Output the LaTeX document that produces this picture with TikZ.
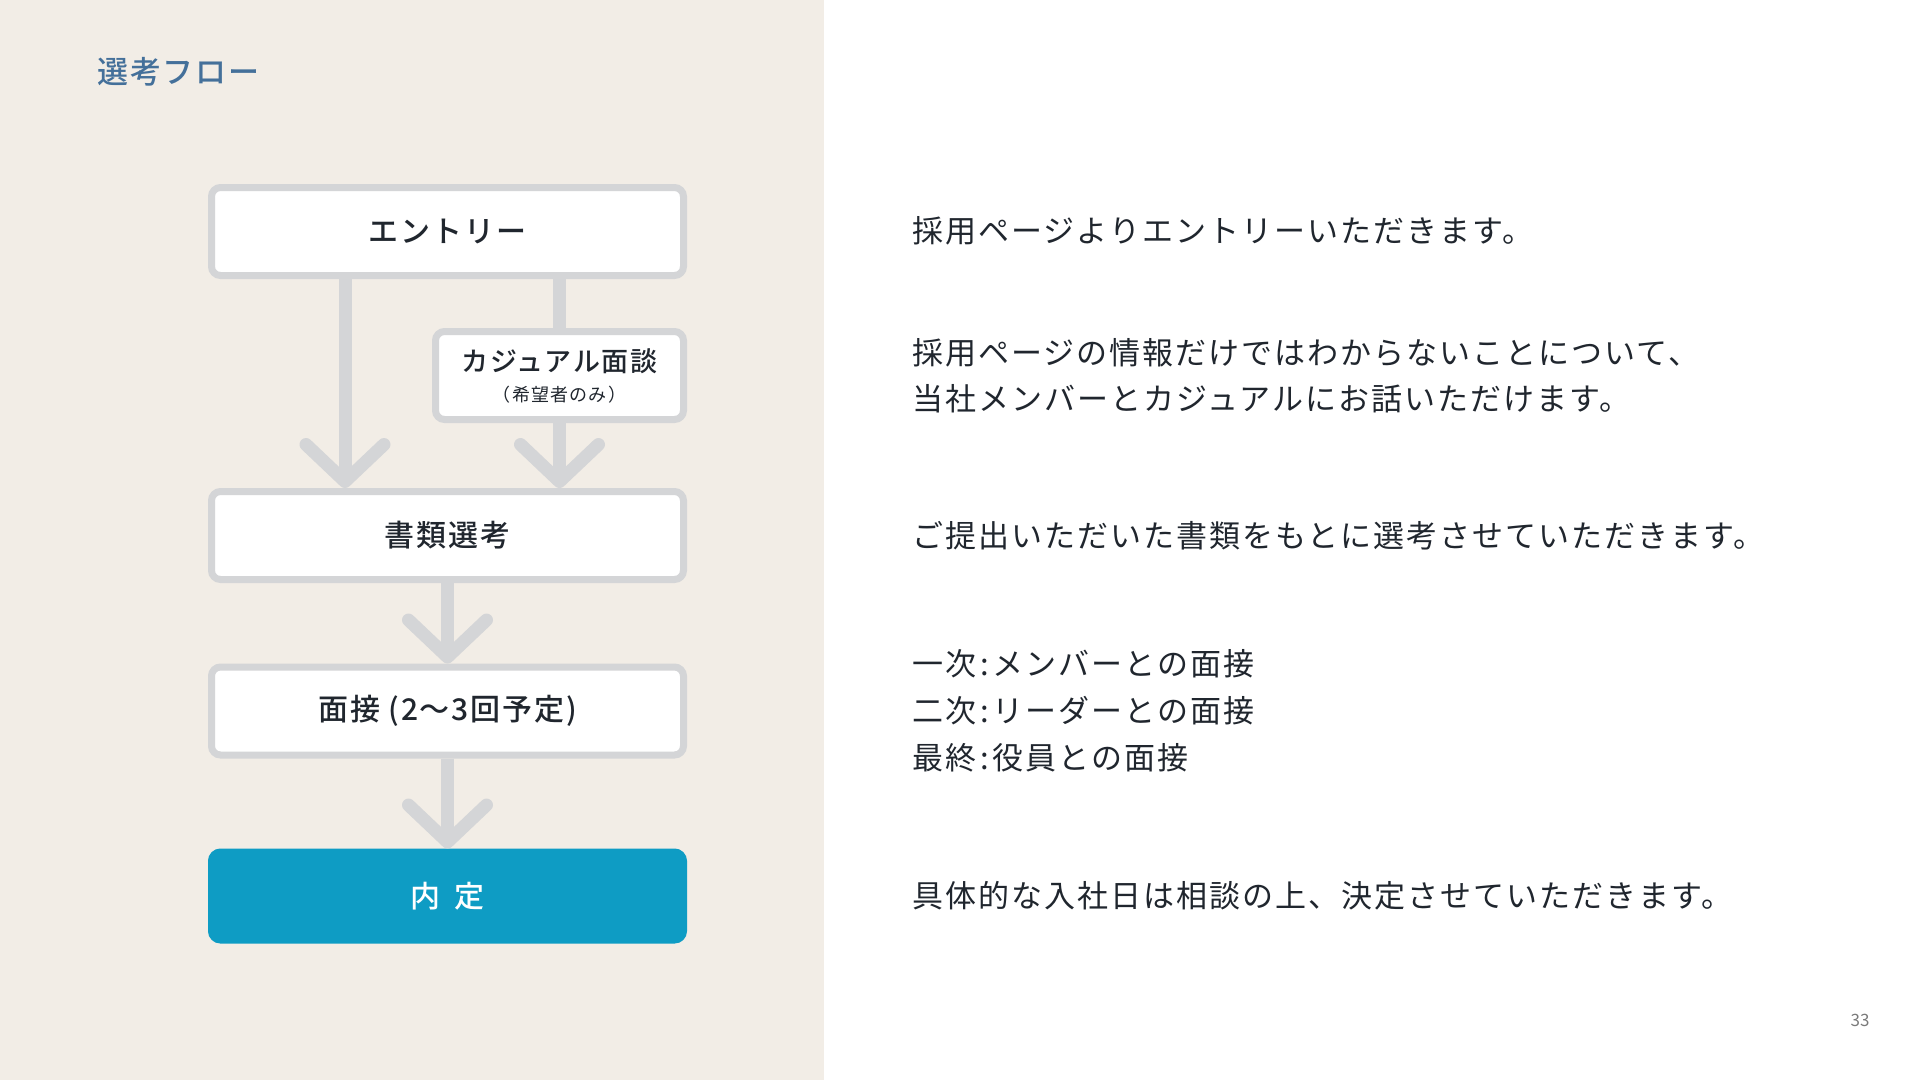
\documentclass[tikz,border=0pt]{standalone}
\usepackage{fontspec}
\setmainfont{Noto Sans CJK JP}
\newfontfamily\bodyfont{Noto Sans CJK JP}[LetterSpace=6.5]
\IfFontExistsTF{Noto Sans CJK JP Medium}
  {\newfontfamily\labelfont{Noto Sans CJK JP Medium}[LetterSpace=6]}
  {\newfontfamily\labelfont{Noto Sans CJK JP}[LetterSpace=6,FakeBold=2.5]}
\usetikzlibrary{arrows.meta}
\definecolor{panelbg}{HTML}{F2EDE6}
\definecolor{boxgray}{HTML}{D4D5D7}
\definecolor{offerblue}{HTML}{0E9CC4}
\definecolor{titleblue}{HTML}{44709A}
\definecolor{inkdark}{HTML}{20262E}
\definecolor{pagegray}{HTML}{7A7A7A}

\begin{document}
\begin{tikzpicture}[x=1pt,y=-1pt,
    stepbox/.style={rectangle,rounded corners=9pt,draw=boxgray,line width=7pt,fill=white,
      minimum width=472pt,minimum height=88pt,inner sep=0pt,text=inkdark,
      font=\labelfont\fontsize{30}{34}\selectfont},
    flow/.style={draw=boxgray,line width=13pt},
    flowarrow/.style={flow,-{Straight Barb[length=37pt,width=78pt,round]}},
    note/.style={anchor=west,align=left,inner sep=0pt,text=inkdark,font=\bodyfont\fontsize{31}{46}\selectfont}]

       \useasboundingbox (0,0) rectangle (1920,1080);
       \fill[panelbg] (0,0) rectangle (824,1080);

       \node[anchor=west,inner sep=0pt,text=titleblue,font=\labelfont\fontsize{31}{36}\selectfont] (title) at (97,72) {選考フロー};

       % flow boxes
       \node[stepbox] (entry) at (447.5,231.5) {エントリー};
       \node[stepbox,minimum width=248pt,align=center] (casual) at (559.5,375.5)
         {{\fontsize{27}{30}\selectfont カジュアル面談}\\[-4pt]{\bodyfont\fontsize{18}{20}\selectfont （希望者のみ）}};
       \node[stepbox] (docs) at (447.5,535.5) {書類選考};
       \node[stepbox] (interview) at (447.5,711) {面接 (2〜3回予定)};
       \node[stepbox,draw=offerblue,fill=offerblue,text=white] (offer) at (447.5,896) {内\hspace{14pt}定};

       \coordinate (leftlane) at (345,0);
       \draw[flowarrow] (entry.south -| leftlane) to (docs.north -| leftlane);
       \draw[flow] (entry.south -| casual) to (casual.north);
       \draw[flowarrow] (casual.south) to (docs.north -| casual);
       \draw[flowarrow] (docs.south) to (interview.north);
       \draw[flowarrow] (interview.south) to (offer.north);

       % explanations
       \node[note] (n1) at (912,231) {採用ページよりエントリーいただきます。};
       \node[note] (n2) at (912,376) {採用ページの情報だけではわからないことについて、\\当社メンバーとカジュアルにお話いただけます。};
       \node[note] (n3) at (912,536) {ご提出いただいた書類をもとに選考させていただきます。};
       \node[note,font=\bodyfont\fontsize{31}{47}\selectfont] (n4) at (912,711) {一次\hspace{4pt}:\hspace{4pt}メンバーとの面接\\二次\hspace{4pt}:\hspace{4pt}リーダーとの面接\\最終\hspace{4pt}:\hspace{4pt}役員との面接};
       \node[note] (n5) at (912,896) {具体的な入社日は相談の上、決定させていただきます。};

       \node[text=pagegray,font=\fontsize{17}{20}\selectfont] (page) at (1860,1020) {33};
     \end{tikzpicture}
\end{document}
